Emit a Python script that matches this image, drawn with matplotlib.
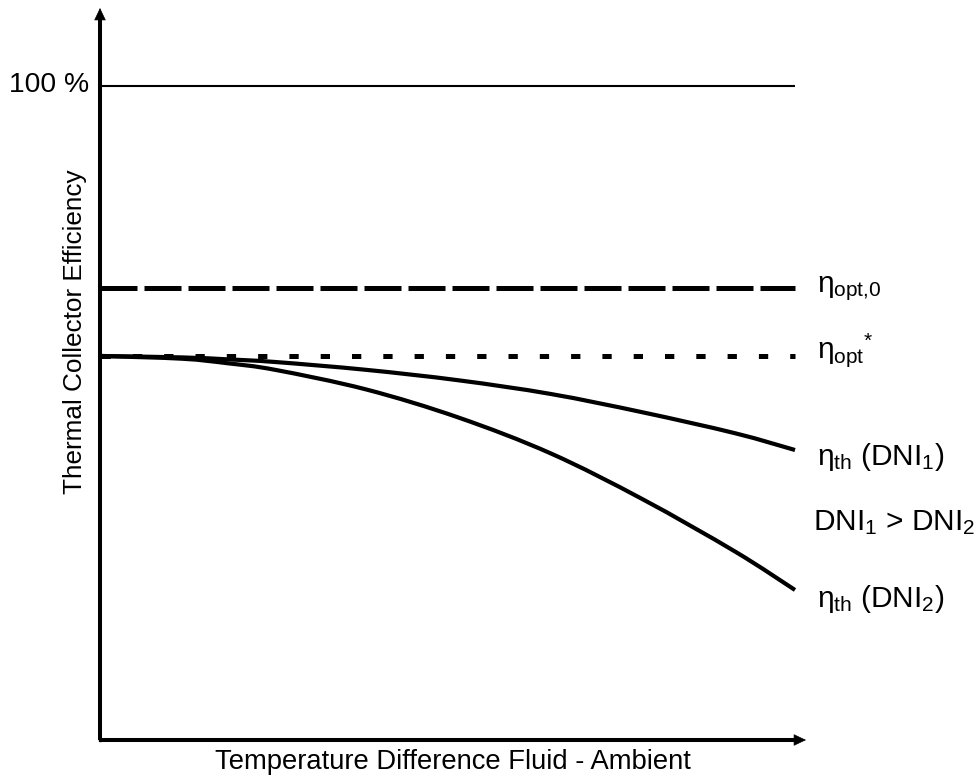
import matplotlib
matplotlib.use("Agg")
import matplotlib.pyplot as plt
from matplotlib.path import Path
from matplotlib.patches import PathPatch
import numpy as np

plt.rcParams['font.family'] = ['Liberation Sans', 'DejaVu Sans']
plt.rcParams['mathtext.fontset'] = 'custom'
plt.rcParams['mathtext.rm'] = 'Liberation Sans'
plt.rcParams['mathtext.it'] = 'Liberation Sans'
plt.rcParams['mathtext.bf'] = 'Liberation Sans:bold'

# Data (x: relative temperature difference 0..100, y: efficiency %)
x_dni1 = [0, 11.8, 18.4, 25.2, 38.3, 51.6, 64.9, 78.1, 91.4, 100]
y_dni1 = [58.72, 58.50, 58.20, 57.80, 56.60, 55.00, 52.90, 50.10, 46.90, 44.34]
x_dni2 = [0, 11.8, 18.4, 25.2, 38.3, 51.6, 64.9, 78.1, 91.4, 100]
y_dni2 = [58.72, 58.30, 57.60, 56.60, 53.60, 49.30, 43.80, 36.80, 28.80, 22.94]
eta_100 = 100.0
eta_opt0 = 69.1
eta_opt_star = 58.72
x_end = 100

labels_right = [r'$\eta_{\mathrm{opt{,}0}}$', r'$\eta_{\mathrm{opt}}{}^{*}$',
                r'$\eta_{\mathrm{th}}$ (DNI$_1$)', r'DNI$_1$ > DNI$_2$',
                r'$\eta_{\mathrm{th}}$ (DNI$_2$)']
label_y = [68.50, 58.41, 42.05, 32.11, 20.34]
label_x = [103.17, 103.17, 103.17, 102.6, 103.17]

W, H = 976, 782
fig = plt.figure(figsize=(W/100, H/100), dpi=100)
x0px, y0px = 100, 740
xtip, ytip = 806, 8
ax = fig.add_axes([x0px/W, (H-y0px)/H, (xtip-x0px)/W, (y0px-ytip)/H])
pxx = 695/100.0
pxy = 654/100.0
xmax = (xtip-x0px)/pxx
ymax = (y0px-ytip)/pxy
ax.set_xlim(0, xmax)
ax.set_ylim(0, ymax)
ax.axis('off')

# axes arrows
ax.plot([0, xmax-1.0], [0, 0], color='black', lw=2.9, solid_capstyle='butt', clip_on=False, zorder=5)
ax.plot([0, 0], [0, ymax-1.2], color='black', lw=2.9, solid_capstyle='butt', clip_on=False, zorder=5)
ax.plot([0], [0], marker='s', ms=2.1, color='black', clip_on=False, zorder=5)
ax.annotate('', xy=(xmax, 0), xytext=(xmax-1.8, 0),
            arrowprops=dict(arrowstyle='-|>,head_length=0.8,head_width=0.38', color='black', lw=0.5,
                            shrinkA=0, shrinkB=0), annotation_clip=False, zorder=6)
ax.annotate('', xy=(0, ymax), xytext=(0, ymax-1.8),
            arrowprops=dict(arrowstyle='-|>,head_length=0.8,head_width=0.38', color='black', lw=0.5,
                            shrinkA=0, shrinkB=0), annotation_clip=False, zorder=6)

# horizontal lines
ax.plot([0, x_end], [eta_100, eta_100], color='black', lw=1.5, solid_capstyle='butt')
ax.plot([0, x_end], [eta_opt0, eta_opt0], color='black', lw=3.6, linestyle=(0, (7.4, 1.4)),
        dash_capstyle='butt')
ax.plot([0, x_end], [eta_opt_star, eta_opt_star], color='black', lw=3.6,
        linestyle=(6.04, (1.86, 4.4)), dash_capstyle='butt')

# curves drawn as smooth Bezier paths through the read points
def smooth_path(xs, ys):
    P = np.column_stack([xs, ys]).astype(float)
    n = len(P)
    verts = [P[0]]
    codes = [Path.MOVETO]
    for i in range(n - 1):
        p0 = P[i - 1] if i > 0 else P[i]
        p1, p2 = P[i], P[i + 1]
        p3 = P[i + 2] if i + 2 < n else P[i + 1]
        c1 = p1 + (p2 - p0) / 6.0
        c2 = p2 - (p3 - p1) / 6.0
        verts += [c1, c2, p2]
        codes += [Path.CURVE4] * 3
    return Path(verts, codes)

for xs, ys in [(x_dni1, y_dni1), (x_dni2, y_dni2)]:
    ax.add_patch(PathPatch(smooth_path(xs, ys), facecolor='none', edgecolor='black',
                           lw=3.0, capstyle='butt', joinstyle='round', zorder=4))

for lab, lx, ly in zip(labels_right, label_x, label_y):
    ax.text(lx, ly, lab, fontsize=21.5, ha='left', va='baseline', clip_on=False)

ax.text(-1.58, 99.08, '100 %', fontsize=20.3, ha='right', va='baseline', clip_on=False)

fig.text(453/W, 1-762/H, 'Temperature Difference Fluid - Ambient', fontsize=19.7, ha='center', va='center')
fig.text(75/W, 1-332/H, 'Thermal Collector Efficiency', fontsize=18.8, ha='center', va='center', rotation=90)

fig.savefig('out.png', dpi=100)
